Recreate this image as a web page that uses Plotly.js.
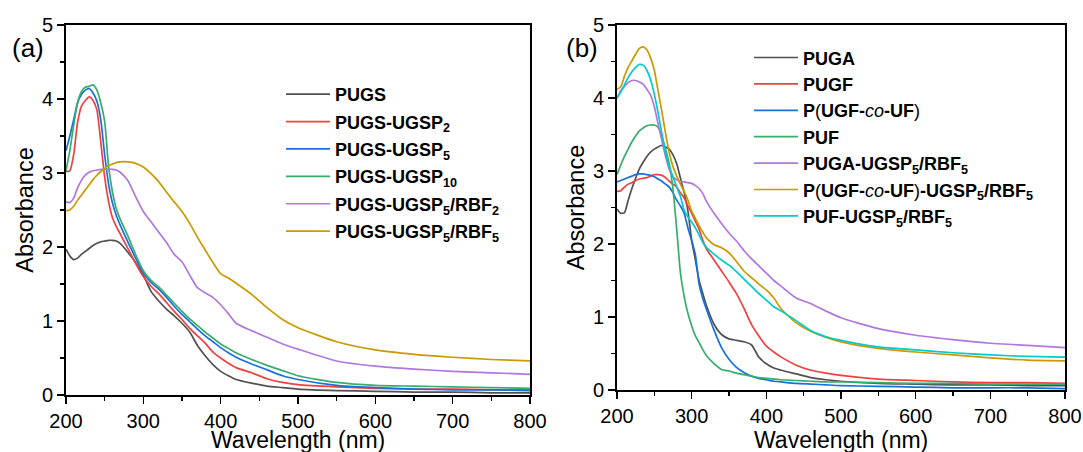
<!DOCTYPE html>
<html>
<head>
<meta charset="utf-8">
<script src="https://cdn.plot.ly/plotly-3.0.1.min.js"></script>
<style>html,body{margin:0;padding:0;background:#fff;}#chart{width:1083px;height:452px;}</style>
</head>
<body>
<div id="chart"></div>
<script>
// ---------- Panel (a) ----------
const wlA = [200,205,210,215,220,225,230,235,240,245,250,255,260,265,270,280,290,300,310,320,330,340,350,360,370,380,390,400,410,420,440,460,480,500,550,600,650,700,750,800];
const namesA = ['PUGS','PUGS-UGSP<sub>2</sub>','PUGS-UGSP<sub>5</sub>','PUGS-UGSP<sub>10</sub>','PUGS-UGSP<sub>5</sub>/RBF<sub>2</sub>','PUGS-UGSP<sub>5</sub>/RBF<sub>5</sub>'];
const pugs       = [1.97,1.88,1.83,1.85,1.90,1.94,1.98,2.02,2.05,2.07,2.08,2.09,2.09,2.08,2.05,1.93,1.79,1.62,1.40,1.27,1.16,1.07,0.97,0.85,0.67,0.53,0.41,0.32,0.26,0.21,0.16,0.12,0.10,0.08,0.06,0.05,0.04,0.04,0.03,0.03];
const pugsUgsp2  = [3.02,3.03,3.25,3.68,3.90,3.98,4.03,3.98,3.85,3.42,2.95,2.62,2.40,2.28,2.18,1.98,1.78,1.60,1.47,1.37,1.25,1.13,1.02,0.90,0.80,0.70,0.58,0.50,0.43,0.37,0.30,0.22,0.17,0.14,0.11,0.09,0.08,0.08,0.07,0.07];
const pugsUgsp5  = [3.30,3.50,3.72,3.95,4.06,4.12,4.14,4.08,3.97,3.72,3.25,2.86,2.60,2.43,2.30,2.07,1.85,1.65,1.52,1.43,1.32,1.20,1.09,0.99,0.89,0.80,0.72,0.64,0.57,0.51,0.42,0.34,0.26,0.21,0.13,0.10,0.08,0.07,0.07,0.06];
const pugsUgsp10 = [3.03,3.30,3.65,3.95,4.10,4.16,4.17,4.19,4.12,3.95,3.70,3.10,2.75,2.52,2.38,2.15,1.90,1.68,1.55,1.46,1.35,1.24,1.13,1.03,0.94,0.85,0.77,0.69,0.63,0.57,0.48,0.40,0.33,0.26,0.17,0.13,0.12,0.11,0.10,0.09];
const pugsRbf2   = [2.61,2.60,2.66,2.80,2.90,2.97,3.01,3.03,3.04,3.05,3.05,3.05,3.05,3.04,3.01,2.90,2.68,2.48,2.34,2.20,2.06,1.90,1.80,1.62,1.45,1.38,1.32,1.22,1.10,0.97,0.87,0.78,0.69,0.62,0.46,0.39,0.35,0.32,0.30,0.28];
const pugsRbf5   = [2.49,2.50,2.55,2.63,2.70,2.77,2.84,2.91,2.97,3.02,3.06,3.10,3.12,3.14,3.15,3.15,3.13,3.08,2.99,2.88,2.74,2.61,2.48,2.32,2.13,1.96,1.79,1.64,1.58,1.51,1.36,1.18,1.02,0.91,0.72,0.61,0.55,0.51,0.48,0.46];
const seriesA = [pugs,pugsUgsp2,pugsUgsp5,pugsUgsp10,pugsRbf2,pugsRbf5];

// ---------- Panel (b) ----------
const wlB = [200,205,210,215,220,225,230,235,240,245,250,255,260,265,270,275,280,285,290,295,300,305,310,315,320,330,340,350,360,370,380,390,400,410,420,440,460,480,500,550,600,650,700,750,800];
const namesB = ['<b>PUGA</b>','<b>PUGF</b>','<b>P</b>(<b>UGF-</b><i>co</i><b>-UF</b>)','<b>PUF</b>','<b>PUGA-UGSP<sub>5</sub>/RBF<sub>5</sub></b>','<b>P</b>(<b>UGF-</b><i>co</i><b>-UF</b>)<b>-UGSP<sub>5</sub>/RBF<sub>5</sub></b>','<b>PUF-UGSP<sub>5</sub>/RBF<sub>5</sub></b>'];
const puga      = [2.48,2.42,2.43,2.60,2.76,2.90,3.03,3.12,3.20,3.26,3.30,3.33,3.35,3.33,3.30,3.22,3.10,2.90,2.70,2.45,2.05,1.78,1.50,1.32,1.15,0.90,0.76,0.70,0.68,0.66,0.62,0.45,0.36,0.30,0.27,0.22,0.17,0.14,0.12,0.09,0.08,0.07,0.07,0.06,0.06];
const pugf      = [2.72,2.73,2.78,2.82,2.84,2.87,2.89,2.90,2.91,2.93,2.95,2.95,2.94,2.91,2.86,2.82,2.78,2.70,2.63,2.52,2.42,2.31,2.20,2.05,1.93,1.78,1.63,1.48,1.32,1.12,0.90,0.74,0.60,0.52,0.45,0.34,0.27,0.23,0.20,0.15,0.13,0.11,0.10,0.10,0.09];
const pUgfCoUf  = [2.85,2.87,2.89,2.91,2.93,2.95,2.96,2.96,2.95,2.94,2.92,2.89,2.86,2.82,2.78,2.70,2.60,2.52,2.42,2.22,2.05,1.85,1.45,1.25,1.10,0.82,0.58,0.42,0.31,0.24,0.19,0.16,0.14,0.12,0.11,0.09,0.08,0.07,0.06,0.05,0.04,0.03,0.03,0.03,0.02];
const puf       = [2.95,3.08,3.20,3.30,3.40,3.48,3.55,3.59,3.62,3.63,3.63,3.60,3.48,3.30,3.10,2.75,2.20,1.60,1.28,1.05,0.88,0.74,0.65,0.55,0.47,0.36,0.28,0.26,0.23,0.21,0.19,0.17,0.16,0.15,0.14,0.13,0.12,0.11,0.11,0.10,0.09,0.09,0.08,0.08,0.08];
const pugaRbf5  = [4.00,4.10,4.16,4.21,4.24,4.24,4.22,4.19,4.12,4.04,3.88,3.65,3.42,3.20,3.02,2.92,2.88,2.86,2.85,2.84,2.83,2.80,2.76,2.69,2.58,2.42,2.28,2.15,2.04,1.91,1.80,1.70,1.60,1.50,1.42,1.26,1.18,1.08,0.99,0.84,0.75,0.69,0.64,0.61,0.58];
const pcoRbf5   = [4.12,4.15,4.30,4.42,4.51,4.60,4.68,4.70,4.66,4.55,4.38,4.10,3.82,3.52,3.25,3.06,2.93,2.82,2.72,2.60,2.45,2.35,2.25,2.16,2.08,1.99,1.95,1.88,1.76,1.63,1.54,1.45,1.37,1.26,1.11,0.92,0.80,0.72,0.66,0.57,0.52,0.48,0.44,0.41,0.40];
const pufRbf5   = [4.00,4.08,4.18,4.28,4.36,4.42,4.46,4.45,4.38,4.25,4.05,3.80,3.52,3.25,3.06,2.92,2.78,2.65,2.46,2.37,2.30,2.22,2.12,2.02,1.95,1.86,1.78,1.71,1.62,1.52,1.42,1.32,1.23,1.14,1.08,0.95,0.81,0.73,0.68,0.59,0.55,0.51,0.48,0.46,0.45];
const seriesB = [puga,pugf,pUgfCoUf,puf,pugaRbf5,pcoRbf5,pufRbf5];

const colors = ['#515151','#F14040','#1A6FDF','#37AD6B','#B177DE','#CC9900','#00CBCC'];
const FONT = 'Liberation Sans, Arial, sans-serif';
const xTitle = 'Wavelength (nm)';
const yTitle = 'Absorbance';

const traces = [];
seriesA.forEach((ys, i) => traces.push({
  x: wlA, y: ys, type: 'scatter', mode: 'lines', name: namesA[i],
  line: {color: colors[i], width: 1.7, shape: 'spline', smoothing: 0.6},
  xaxis: 'x', yaxis: 'y', legend: 'legend', legendgroup: 'a' + i
}));
seriesB.forEach((ys, i) => traces.push({
  x: wlB, y: ys, type: 'scatter', mode: 'lines', name: namesB[i],
  line: {color: colors[i], width: 1.7, shape: 'spline', smoothing: 0.6},
  xaxis: 'x2', yaxis: 'y2', legend: 'legend2', legendgroup: 'b' + i
}));

function xax(domain, anchor) {
  return {
    domain: domain, anchor: anchor, range: [200, 800], dtick: 100, tick0: 200,
    ticks: 'outside', ticklen: 7, tickwidth: 1.5, tickcolor: '#000',
    showline: true, linewidth: 1.8, linecolor: '#000', mirror: true,
    showgrid: false, zeroline: false,
    minor: {dtick: 50, ticks: 'outside', ticklen: 4, tickwidth: 1.5, tickcolor: '#000', showgrid: false},
    tickfont: {family: FONT, size: 20, color: '#000'}
  };
}
function yax(domain, anchor) {
  return {
    domain: domain, anchor: anchor, range: [0, 5], dtick: 1, tick0: 0,
    ticks: 'outside', ticklen: 7, tickwidth: 1.5, tickcolor: '#000',
    showline: true, linewidth: 1.8, linecolor: '#000', mirror: true,
    showgrid: false, zeroline: false,
    minor: {dtick: 0.5, ticks: 'outside', ticklen: 4, tickwidth: 1.5, tickcolor: '#000', showgrid: false},
    tickfont: {family: FONT, size: 20, color: '#000'},
    title: {text: yTitle, font: {family: FONT, size: 23.5, color: '#000'}, standoff: 2}
  };
}

const layout = {
  width: 1083, height: 452,
  margin: {l: 0, r: 0, t: 0, b: 0},
  paper_bgcolor: '#fff', plot_bgcolor: '#fff',
  font: {family: FONT, color: '#000'},
  showlegend: true,
  xaxis: xax([0.0609, 0.4894], 'y'),
  yaxis: yax([0.1261, 0.9447], 'x'),
  xaxis2: xax([0.5697, 0.9834], 'y2'),
  yaxis2: yax([0.1372, 0.9447], 'x2'),
  legend: {x: 0.2595, y: 0.832, xanchor: 'left', yanchor: 'top', bgcolor: 'rgba(0,0,0,0)',
           font: {family: FONT, size: 18, color: '#000', weight: 'bold'}, itemwidth: 44, tracegroupgap: 1},
  legend2: {x: 0.6916, y: 0.913, xanchor: 'left', yanchor: 'top', bgcolor: 'rgba(0,0,0,0)',
           font: {family: FONT, size: 18, color: '#000'}, itemwidth: 44, tracegroupgap: 0},
  annotations: [
    {text: '(a)', xref: 'paper', yref: 'paper', x: 0.0259, y: 0.894, showarrow: false,
     xanchor: 'center', yanchor: 'middle', font: {family: FONT, size: 26, color: '#000'}},
    {text: '(b)', xref: 'paper', yref: 'paper', x: 0.5374, y: 0.894, showarrow: false,
     xanchor: 'center', yanchor: 'middle', font: {family: FONT, size: 26, color: '#000'}},
    {text: xTitle, xref: 'x domain', yref: 'paper', x: 0.5, y: 0, showarrow: false,
     xanchor: 'center', yanchor: 'bottom', yshift: -3, font: {family: FONT, size: 23, color: '#000'}},
    {text: xTitle, xref: 'x2 domain', yref: 'paper', x: 0.5, y: 0, showarrow: false,
     xanchor: 'center', yanchor: 'bottom', yshift: -3, font: {family: FONT, size: 23, color: '#000'}}
  ]
};

Plotly.newPlot('chart', traces, layout, {displayModeBar: false, staticPlot: true});
</script>
</body>
</html>
